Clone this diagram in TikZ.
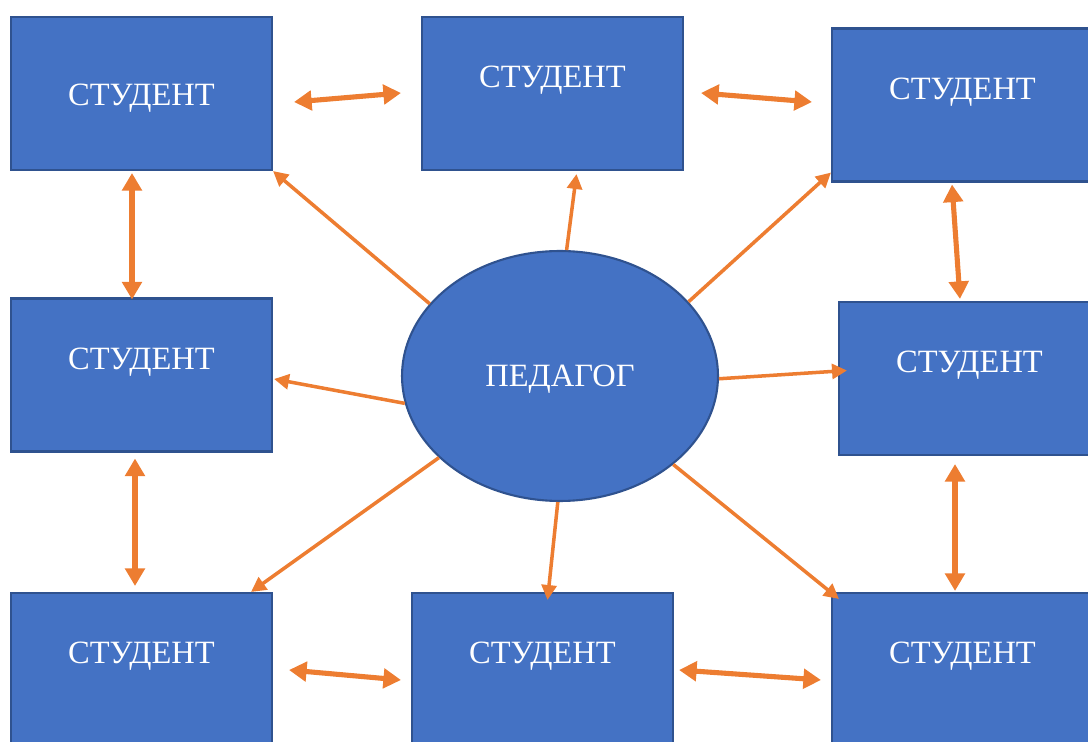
\documentclass[tikz,border=0pt]{standalone}
\usepackage{fontspec}
\setmainfont{Liberation Serif}
\usepackage{tikz}
\usepackage{xcolor}
\usetikzlibrary{arrows.meta, shapes.geometric, positioning, calc}

\definecolor{boxfill}{HTML}{4472C4}
\definecolor{boxline}{HTML}{2F528F}
\definecolor{linkcol}{HTML}{ED7D31}

\begin{document}
\begin{tikzpicture}[x=0.02cm, y=-0.02cm, student/.style={rectangle, draw=boxline, fill=boxfill, line width=1.2pt, minimum width=5.22cm, minimum height=3.06cm, inner sep=0pt}, caption/.style={text=white, font=\fontsize{18.5}{20}\selectfont, inner sep=0pt}, raised/.style={label={[caption, yshift=0.26cm]center:#1}}, centred/.style={label={[caption, yshift=-0.1cm]center:#1}}, teacher/.style={ellipse, draw=boxline, fill=boxfill, line width=1.2pt, minimum width=6.32cm, minimum height=5cm, inner sep=0pt}, link/.style={draw=linkcol, line width=2pt, -{Triangle[length=8.5pt, width=8.5pt]}}, pair/.style={draw=linkcol, line width=2.9pt, {Triangle[length=10pt, width=11pt]}-{Triangle[length=10pt, width=11pt]}}]

        \clip (0,0) rectangle (1088,742);

        \node[student, centred=СТУДЕНТ] (s1) at (141.5,93.5) {};
        \node[student, raised=СТУДЕНТ] (s2) at (552.5,93.5) {};
        \node[student, raised=СТУДЕНТ] (s3) at (962.5,105) {};
        \node[student, raised=СТУДЕНТ] (s4) at (141.5,375) {};
        \node[student, raised=СТУДЕНТ] (s5) at (969.5,378.5) {};
        \node[student, raised=СТУДЕНТ] (s6) at (141.5,669.5) {};
        \node[student, raised=СТУДЕНТ] (s7) at (542.5,669.5) {};
        \node[student, raised=СТУДЕНТ] (s8) at (962.5,669.5) {};

        \node[teacher, label={[caption, yshift=-0.06cm]center:ПЕДАГОГ}] (ped) at (560,376) {};

        % from the teacher to every student
        \path[link] (ped.151) -- (s1.south east);
        \path[link] (ped.87) -- ($(s2.south)+(24,3)$);
        \path[link] (ped.30) -- ($(s3.south west)+(0,-10)$);
        \path[link] (ped.190) -- ($(s4.east)+(1,4)$);
        \path[link] (ped.359) -- ($(s5.west)+(9,-8)$);
        \path[link] (ped.214) -- ($(s6.north east)+(-22,0)$);
        \path[link] (ped.269) -- ($(s7.north)+(5,8)$);
        \path[link] (ped.322) -- ($(s8.north west)+(8,7)$);

        % between neighbouring students
        \path[pair] ($(s1.east)+(21,8.5)$) -- ($(s2.west)+(-20,-0.5)$);
        \path[pair] ($(s2.east)+(17,-0.5)$) -- ($(s3.west)+(-19,-3)$);
        \path[pair] ($(s1.south)+(-9.5,2)$) -- ($(s4.north)+(-9.5,2)$);
        \path[pair] ($(s4.south)+(-6.5,6)$) -- ($(s6.north)+(-6.5,-6)$);
        \path[pair] ($(s3.south)+(-10.5,2)$) -- ($(s5.north)+(-9.5,-2)$);
        \path[pair] ($(s5.south)+(-14.5,8)$) -- ($(s8.north)+(-7.5,-1)$);
        \path[pair] ($(s6.east)+(16,0.5)$) -- ($(s7.west)+(-10,10.5)$);
        \path[pair] ($(s7.east)+(5,0.5)$) -- ($(s8.west)+(-10,10.5)$);

    \end{tikzpicture}
\end{document}
